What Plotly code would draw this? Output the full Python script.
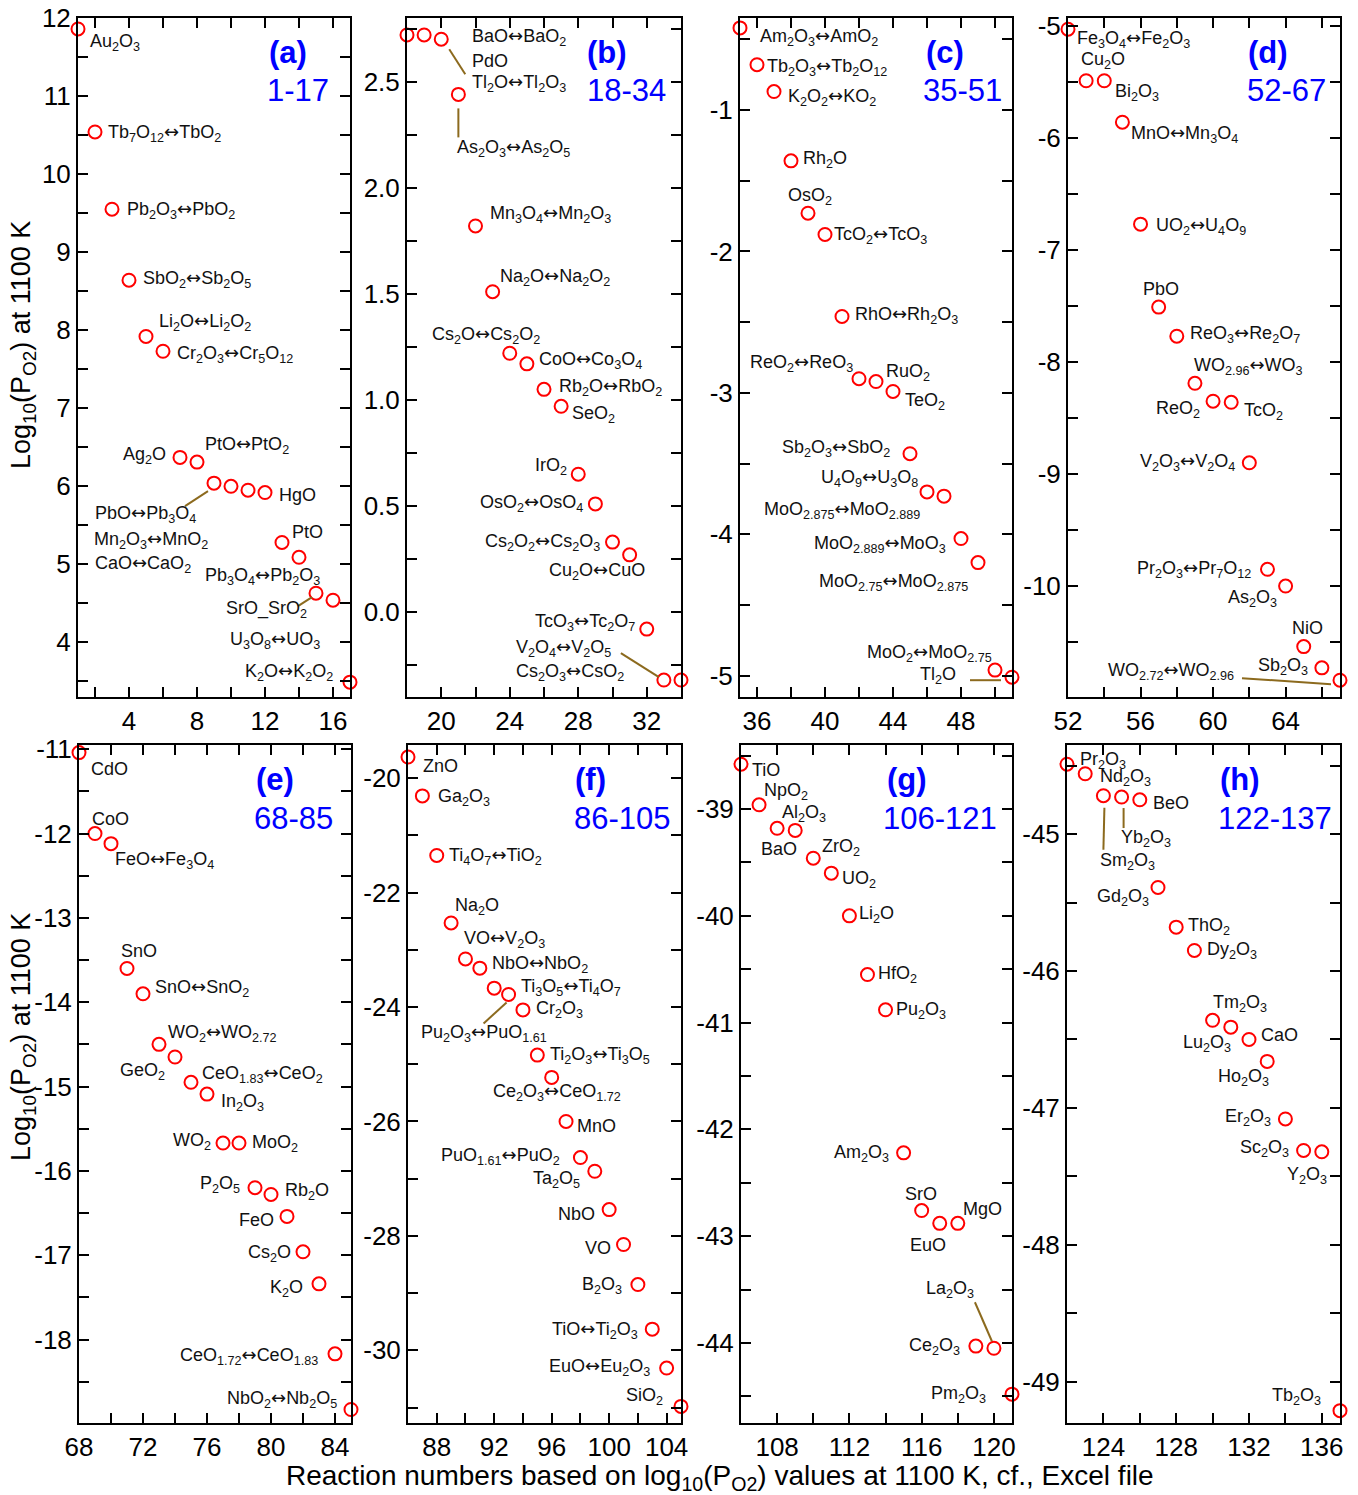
import re
import plotly.graph_objects as go

W, H = 1358, 1495

# ---------------- data ----------------
rxn_a = list(range(1, 18))
logp_a = [11.86, 10.54, 9.55, 8.64, 7.92, 7.73, 6.37, 6.31, 6.04, 6.00, 5.95, 5.92, 5.28, 5.09, 4.63, 4.54, 3.49]
names_a = ["Au2O3", "Tb7O12↔TbO2", "Pb2O3↔PbO2", "SbO2↔Sb2O5", "Li2O↔Li2O2", "Cr2O3↔Cr5O12",
           "Ag2O", "PtO↔PtO2", "PbO↔Pb3O4", "Mn2O3↔MnO2", "CaO↔CaO2", "HgO", "PtO",
           "Pb3O4↔Pb2O3", "SrO_SrO2", "U3O8↔UO3", "K2O↔K2O2"]

rxn_b = list(range(18, 35))
logp_b = [2.72, 2.72, 2.70, 2.44, 1.82, 1.51, 1.22, 1.17, 1.05, 0.97, 0.65, 0.51, 0.33, 0.27, -0.08, -0.32, -0.32]
names_b = ["BaO↔BaO2", "PdO", "Tl2O↔Tl2O3", "As2O3↔As2O5", "Mn3O4↔Mn2O3", "Na2O↔Na2O2",
           "Cs2O↔Cs2O2", "CoO↔Co3O4", "Rb2O↔RbO2", "SeO2", "IrO2", "OsO2↔OsO4",
           "Cs2O2↔Cs2O3", "Cu2O↔CuO", "TcO3↔Tc2O7", "V2O4↔V2O5", "Cs2O3↔CsO2"]

rxn_c = list(range(35, 52))
logp_c = [-0.42, -0.68, -0.87, -1.36, -1.73, -1.88, -2.46, -2.90, -2.92, -2.99, -3.43, -3.70, -3.73,
          -4.03, -4.20, -4.96, -5.01]
names_c = ["Am2O3↔AmO2", "Tb2O3↔Tb2O12", "K2O2↔KO2", "Rh2O", "OsO2", "TcO2↔TcO3", "RhO↔Rh2O3",
           "ReO2↔ReO3", "RuO2", "TeO2", "Sb2O3↔SbO2", "U4O9↔U3O8", "MoO2.875↔MoO2.889",
           "MoO2.889↔MoO3", "MoO2.75↔MoO2.875", "MoO2↔MoO2.75", "Tl2O"]

rxn_d = list(range(52, 68))
logp_d = [-5.03, -5.49, -5.49, -5.86, -6.77, -7.51, -7.77, -8.19, -8.35, -8.36, -8.90, -9.85, -10.0,
          -10.54, -10.73, -10.84]
names_d = ["Fe3O4↔Fe2O3", "Cu2O", "Bi2O3", "MnO↔Mn3O4", "UO2↔U4O9", "PbO", "ReO3↔Re2O7",
           "WO2.96↔WO3", "ReO2", "TcO2", "V2O3↔V2O4", "Pr2O3↔Pr7O12", "As2O3", "NiO", "Sb2O3",
           "WO2.72↔WO2.96"]

rxn_e = list(range(68, 86))
logp_e = [-11.04, -12.0, -12.12, -13.6, -13.9, -14.5, -14.65, -14.95, -15.09, -15.67, -15.67, -16.2,
          -16.28, -16.54, -16.96, -17.34, -18.17, -18.83]
names_e = ["CdO", "CoO", "FeO↔Fe3O4", "SnO", "SnO↔SnO2", "WO2↔WO2.72", "GeO2", "CeO1.83↔CeO2",
           "In2O3", "WO2", "MoO2", "P2O5", "Rb2O", "FeO", "Cs2O", "K2O", "CeO1.72↔CeO1.83",
           "NbO2↔Nb2O5"]

rxn_f = list(range(86, 106))
logp_f = [-19.63, -20.31, -21.35, -22.53, -23.16, -23.32, -23.67, -23.78, -24.05, -24.84, -25.23,
          -26.0, -26.63, -26.87, -27.54, -28.15, -28.85, -29.63, -30.31, -30.98]
names_f = ["ZnO", "Ga2O3", "Ti4O7↔TiO2", "Na2O", "VO↔V2O3", "NbO↔NbO2", "Ti3O5↔Ti4O7",
           "Pu2O3↔PuO1.61", "Cr2O3", "Ti2O3↔Ti3O5", "Ce2O3↔CeO1.72", "MnO", "PuO1.61↔PuO2",
           "Ta2O5", "NbO", "VO", "B2O3", "TiO↔Ti2O3", "EuO↔Eu2O3", "SiO2"]

rxn_g = list(range(106, 122))
logp_g = [-38.58, -38.96, -39.18, -39.20, -39.46, -39.60, -40.0, -40.55, -40.88, -42.22, -42.76,
          -42.88, -42.88, -44.03, -44.05, -44.48]
names_g = ["TiO", "NpO2", "BaO", "Al2O3", "ZrO2", "UO2", "Li2O", "HfO2", "Pu2O3", "Am2O3", "SrO",
           "EuO", "MgO", "Ce2O3", "La2O3", "Pm2O3"]

rxn_h = list(range(122, 138))
logp_h = [-44.49, -44.56, -44.72, -44.73, -44.75, -45.39, -45.68, -45.85, -46.36, -46.41, -46.50,
          -46.66, -47.08, -47.31, -47.32, -49.21]
names_h = ["Pr2O3", "Nd2O3", "Sm2O3", "Yb2O3", "BeO", "Gd2O3", "ThO2", "Dy2O3", "Tm2O3", "Lu2O3",
           "CaO", "Ho2O3", "Er2O3", "Sc2O3", "Y2O3", "Tb2O3"]

panel_tags = ["(a)", "(b)", "(c)", "(d)", "(e)", "(f)", "(g)", "(h)"]
panel_spans = ["1-17", "18-34", "35-51", "52-67", "68-85", "86-105", "106-121", "122-137"]

xticks = [[4, 8, 12, 16], [20, 24, 28, 32], [36, 40, 44, 48], [52, 56, 60, 64],
          [68, 72, 76, 80, 84], [88, 92, 96, 100, 104], [108, 112, 116, 120], [124, 128, 132, 136]]
yticks = [[4, 5, 6, 7, 8, 9, 10, 11, 12],
          [0.0, 0.5, 1.0, 1.5, 2.0, 2.5],
          [-5, -4, -3, -2, -1],
          [-11, -10, -9, -8, -7, -6, -5],
          [-19, -18, -17, -16, -15, -14, -13, -12, -11],
          [-30, -28, -26, -24, -22, -20],
          [-44, -43, -42, -41, -40, -39],
          [-49, -48, -47, -46, -45]]
ytick_text = [[str(v) for v in yticks[0]],
              ["%.1f" % v for v in yticks[1]]] + [[str(v) for v in t] for t in yticks[2:]]

# ---------------- layout / style ----------------
# pixel boxes (left, right, top, bottom)
boxes = [(78, 350, 18, 697), (407, 681, 18, 697), (740, 1012, 18, 697), (1068, 1340, 18, 697),
         (79, 351, 745, 1423), (408, 681, 745, 1423), (741, 1012, 745, 1423), (1067, 1340, 745, 1423)]
xranges = [[1, 17], [18, 34], [35, 51], [52, 67], [68, 85], [86, 105], [106, 121], [122, 137]]
yranges = [[3.3, 12.0], [-0.40, 2.80], [-5.15, -0.35], [-10.99, -4.93], [-18.99, -10.95],
           [-31.27, -19.42], [-44.75, -38.40], [-49.30, -44.35]]
yminor = [0.5, 0.25, 0.5, 0.5, 0.5, 1, 0.5, 0.5]

# label placement: (anchor, dx, dy) in screen pixels relative to the point
off_a = [('l', 10, 14), ('l', 11, 1), ('l', 13, 1), ('l', 12, -1), ('l', 11, -14), ('l', 12, 3),
         ('r', -12, -2), ('l', 6, -17), ('r', -16, 31), ('l', -139, 54), ('l', -155, 74),
         ('l', 12, 2), ('l', 8, -10), ('r', 23, 19), ('r', -7, 16), ('r', -11, 40), ('r', -15, -10)]
off_b = [('l', 63, 2), ('l', 46, 26), ('l', 29, 44), ('l', -3, 54), ('l', 12, -12), ('l', 5, -15),
         ('r', 32, -18), ('l', 10, -4), ('l', 13, -2), ('l', 9, 8), ('r', -9, -8), ('r', -10, -1),
         ('r', -11, 0), ('r', 17, 16), ('r', -10, -7), ('r', -51, -32), ('r', -55, -8)]
off_c = [('l', 18, 9), ('l', 8, 2), ('l', 12, 5), ('l', 10, -1), ('l', -22, -17), ('l', 7, 1),
         ('l', 11, -1), ('r', -4, -16), ('l', 8, -9), ('l', 10, 10), ('r', -18, -6), ('r', -7, -14),
         ('r', -22, 14), ('r', -13, 5), ('r', -8, 19), ('r', -1, -17), ('r', -54, -2)]
off_d = [('l', 7, 10), ('l', -7, -20), ('l', 9, 12), ('l', 7, 12), ('l', 13, 2), ('l', -18, -18),
         ('l', 11, -2), ('l', -3, -17), ('r', -11, 8), ('l', 11, 9), ('r', -12, -1), ('r', -14, 0),
         ('r', -7, 12), ('l', -14, -19), ('r', -12, -1), ('r', -104, -9)]
off_e = [('l', 10, 16), ('l', -5, -15), ('l', 2, 16), ('l', -8, -17), ('l', 10, -6), ('l', 7, -11),
         ('r', -8, 14), ('l', 9, -8), ('l', 12, 8), ('r', -10, -2), ('l', 11, 0), ('r', -13, -3),
         ('l', 12, -3), ('r', -11, 4), ('r', -10, 2), ('r', -14, 5), ('r', -15, 2), ('r', -12, -11)]
off_f = [('l', 13, 9), ('l', 14, 2), ('l', 10, 1), ('l', 2, -16), ('l', -3, -20), ('l', 10, -4),
         ('l', 25, -1), ('l', -90, 39), ('l', 11, 0), ('l', 11, 0), ('l', -61, 15), ('l', 9, 5),
         ('r', -18, -2), ('r', -13, 8), ('r', -12, 4), ('r', -11, 4), ('r', -14, 1), ('r', -12, 1),
         ('r', -15, -1), ('r', -16, -10)]
off_g = [('l', 9, 6), ('l', 3, -13), ('l', -18, 21), ('l', -15, -17), ('l', 7, -11), ('l', 9, 6),
         ('l', 8, -1), ('l', 9, 0), ('l', 8, 1), ('r', -13, 1), ('l', -19, -17), ('l', -32, 22),
         ('l', 3, -14), ('r', -14, 0), ('l', -70, -59), ('r', -24, 0)]
off_h = [('l', 11, -4), ('l', 13, 4), ('l', -5, 66), ('l', -3, 41), ('l', 11, 3), ('r', -7, 10),
         ('l', 10, -1), ('l', 11, 0), ('l', -2, -17), ('r', 2, 16), ('l', 10, -4), ('r', 4, 16),
         ('r', -12, -1), ('r', -13, -2), ('r', 7, 24), ('r', -17, -14)]

# leader lines: panel index, point index within panel, (dx0, dy0, dx1, dy1) screen px
leaders = [(0, 8, (-29, 23, -6, 8)), (0, 14, (-18, 13, -4, 4)),
           (1, 2, (8, 10, 24, 35)), (1, 3, (0, 14, 0, 43)), (1, 15, (-43, -27, -5, -3)),
           (2, 16, (-42, 3, -11, 3)), (3, 15, (-98, -2, -9, 4)),
           (5, 7, (-25, 29, -2, 8)), (6, 14, (-19, -46, -2, -7)),
           (7, 2, (1, 12, 0, 54)), (7, 3, (2, 11, 2, 31))]

# tag positions (px): tag center x, span center x, row y's
tag_x = [288, 607, 945, 1268, 275, 590, 907, 1240]
span_x = [298, 626, 962, 1286, 293, 622, 940, 1275]
tag_y = [52, 52, 52, 52, 779, 779, 779, 779]
span_y = [91, 91, 91, 91, 818, 818, 818, 818]

FONT = "Arial, Liberation Sans, sans-serif"
LEADER = "#8c6a1e"
ARROW = '<span style="font-family:DejaVu Sans">↔</span>'

def chem(s):
    t = re.sub(r'(?<=[A-Za-z])(\d+(?:\.\d+)?)', r'<sub>\1</sub>', s)
    return t.replace("↔", ARROW)

xs = [rxn_a, rxn_b, rxn_c, rxn_d, rxn_e, rxn_f, rxn_g, rxn_h]
ys = [logp_a, logp_b, logp_c, logp_d, logp_e, logp_f, logp_g, logp_h]
names = [names_a, names_b, names_c, names_d, names_e, names_f, names_g, names_h]
offs = [off_a, off_b, off_c, off_d, off_e, off_f, off_g, off_h]

fig = go.Figure()
annotations = []
shapes = []
layout = {}

for i in range(8):
    k = "" if i == 0 else str(i + 1)
    L, R, T, B = boxes[i]
    xa = dict(domain=[L / W, R / W], range=xranges[i], anchor="y" + k, automargin=False,
              tickmode="array", tickvals=xticks[i], ticktext=[str(v) for v in xticks[i]],
              ticks="inside", ticklen=10, tickwidth=2, tickcolor="black",
              minor=dict(dtick=2, tick0=0, ticks="inside", ticklen=10, tickwidth=2, tickcolor="black"),
              showline=True, linecolor="black", linewidth=2, mirror="allticks",
              showgrid=False, zeroline=False,
              tickfont=dict(family=FONT, size=26, color="black"))
    ya = dict(domain=[1 - B / H, 1 - T / H], range=yranges[i], anchor="x" + k, automargin=False,
              tickmode="array", tickvals=yticks[i], ticktext=ytick_text[i],
              ticks="inside", ticklen=10, tickwidth=2, tickcolor="black",
              minor=dict(dtick=yminor[i], tick0=0, ticks="inside", ticklen=10, tickwidth=2,
                         tickcolor="black"),
              showline=True, linecolor="black", linewidth=2, mirror="allticks",
              showgrid=False, zeroline=False,
              tickfont=dict(family=FONT, size=26, color="black"))
    layout["xaxis" + k] = xa
    layout["yaxis" + k] = ya

    fig.add_trace(go.Scatter(x=xs[i], y=ys[i], mode="markers", xaxis="x" + k, yaxis="y" + k,
                             cliponaxis=False, showlegend=False, hoverinfo="x+y",
                             marker=dict(symbol="circle-open", size=13, color="red",
                                         line=dict(width=2, color="red"))))

    for j, (xv, yv, nm) in enumerate(zip(xs[i], ys[i], names[i])):
        anc, dx, dy = offs[i][j]
        annotations.append(dict(x=xv, y=yv, xref="x" + k, yref="y" + k, text=chem(nm),
                                showarrow=False, xanchor="left" if anc == 'l' else "right",
                                yanchor="middle", xshift=dx, yshift=-dy,
                                font=dict(family=FONT, size=18, color="#111111")))

    annotations.append(dict(x=tag_x[i] / W, y=1 - tag_y[i] / H, xref="paper", yref="paper",
                            text="<b>" + panel_tags[i] + "</b>", showarrow=False,
                            xanchor="center", yanchor="middle",
                            font=dict(family=FONT, size=31, color="#0000ff")))
    annotations.append(dict(x=span_x[i] / W, y=1 - span_y[i] / H, xref="paper", yref="paper",
                            text=panel_spans[i], showarrow=False,
                            xanchor="center", yanchor="middle",
                            font=dict(family=FONT, size=31, color="#0000ff")))

for (pi, pj, (dx0, dy0, dx1, dy1)) in leaders:
    k = "" if pi == 0 else str(pi + 1)
    shapes.append(dict(type="line", xref="x" + k, yref="y" + k,
                       xsizemode="pixel", ysizemode="pixel",
                       xanchor=xs[pi][pj], yanchor=ys[pi][pj],
                       x0=dx0, x1=dx1, y0=-dy0, y1=-dy1,
                       line=dict(color=LEADER, width=2)))

ytitle = "Log<sub>10</sub>(P<sub>O2</sub>) at 1100 K"
for yc in (345, 1037):
    annotations.append(dict(x=23 / W, y=1 - yc / H, xref="paper", yref="paper", text=ytitle,
                            textangle=-90, showarrow=False, xanchor="center", yanchor="middle",
                            font=dict(family=FONT, size=27, color="black")))
annotations.append(dict(x=720 / W, y=1 - 1477 / H, xref="paper", yref="paper",
                        text="Reaction numbers based on log<sub>10</sub>(P<sub>O2</sub>) values at 1100 K, cf., Excel file",
                        showarrow=False, xanchor="center", yanchor="middle",
                        font=dict(family=FONT, size=28, color="black")))

fig.update_layout(width=W, height=H, margin=dict(l=0, r=0, t=0, b=0, autoexpand=False),
                  paper_bgcolor="white", plot_bgcolor="white",
                  annotations=annotations, shapes=shapes, **layout)

fig.write_html("out.html")
